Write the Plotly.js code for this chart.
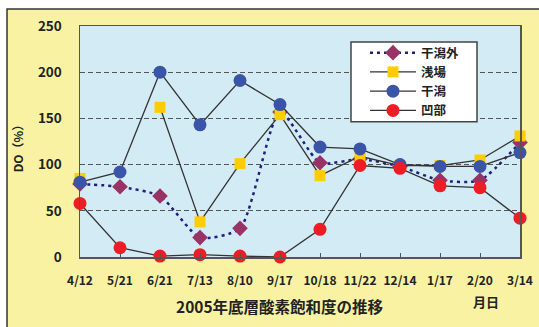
<!DOCTYPE html>
<html>
<head>
<meta charset="utf-8">
<script src="https://cdn.plot.ly/plotly-3.0.1.min.js"></script>
<style>html,body{margin:0;padding:0;background:#fff;}#chart{width:539px;height:327px;}</style>
</head>
<body>
<div id="chart"></div>
<script>
// ---- data ----
const months = ['4/12','5/21','6/21','7/13','8/10','9/17','10/18','11/22','12/14','1/17','2/20','3/14'];
const higataSoto = [79, 76, 66, 21, 31, 157, 102, 106, 98, 83, 83, 124];   // 干潟外
const asaba      = [85, null, 162, 38, 101, 154, 88, 109, 99, 99, 105, 131]; // 浅場
const higata     = [81, 92, 200, 143, 191, 165, 119, 117, 100, 98, 98, 113]; // 干潟
const boubu      = [58, 10, 1, 2.5, 1, 0, 30, 99, 96, 77, 75, 42];          // 凹部
const seriesNames = ['干潟外', '浅場', '干潟', '凹部'];
const yTicks = [0, 50, 100, 150, 200, 250];

const FONT = '"Noto Sans CJK JP", "Noto Sans", sans-serif';
const TXT = '#222';

const traces = [
  {x: months, y: higataSoto, name: seriesNames[0], type: 'scatter', mode: 'lines+markers',
   line: {color: '#1F1F80', width: 2.5, dash: '3px,4px', shape: 'spline', smoothing: 0.6},
   marker: {symbol: 'diamond', size: 12, color: '#993366'}, cliponaxis: false},
  {x: months, y: asaba, name: seriesNames[1], type: 'scatter', mode: 'lines+markers',
   line: {color: '#333333', width: 1.3},
   marker: {symbol: 'square', size: 11, color: '#FFCC00'}, cliponaxis: false},
  {x: months, y: higata, name: seriesNames[2], type: 'scatter', mode: 'lines+markers',
   line: {color: '#333333', width: 1.3},
   marker: {symbol: 'circle', size: 13, color: '#3A55A8'}, cliponaxis: false},
  {x: months, y: boubu, name: seriesNames[3], type: 'scatter', mode: 'lines+markers',
   line: {color: '#333333', width: 1.3},
   marker: {symbol: 'circle', size: 13, color: '#EE1C25'}, cliponaxis: false}
];

const layout = {
  width: 539, height: 327,
  margin: {l: 80, r: 19, t: 26, b: 70, pad: 0},
  paper_bgcolor: '#FFFFFF',
  plot_bgcolor: '#D3EBF4',
  font: {family: FONT, color: TXT, weight: 'bold'},
  showlegend: true,
  legend: {
    x: 0.6477, y: 0.948, xanchor: 'left', yanchor: 'top',
    bgcolor: 'rgba(0,0,0,0)', borderwidth: 0,
    font: {family: FONT, size: 12.5, color: TXT, weight: 'bold'},
    itemwidth: 46, tracegroupgap: 0
  },
  xaxis: {
    type: 'category', range: [0, 11],
    showgrid: false, zeroline: false,
    showline: true, linecolor: '#555', linewidth: 1.5, mirror: true,
    ticks: 'inside', ticklen: 4, tickcolor: '#555', tickwidth: 1,
    tickfont: {family: FONT, size: 12, color: TXT, weight: 'bold'},
    ticklabelstandoff: 12, fixedrange: true
  },
  yaxis: {
    range: [0, 250], tickvals: yTicks,
    showgrid: true, gridcolor: '#555', gridwidth: 1.2, griddash: '5px,3px',
    zeroline: false,
    showline: true, linecolor: '#555', linewidth: 1.5, mirror: true,
    ticks: '',
    tickfont: {family: FONT, size: 13.5, color: TXT, weight: 'bold'},
    ticklabelstandoff: 14, fixedrange: true
  },
  shapes: [
    {type: 'rect', xref: 'paper', yref: 'paper', x0: -0.1659, x1: 1.1, y0: -0.4, y1: 1.0736,
     fillcolor: '#F8F2A2', line: {color: '#333', width: 1.5}, layer: 'below'},
    {type: 'rect', xref: 'paper', yref: 'paper', x0: 0, x1: 1, y0: 0, y1: 1,
     fillcolor: '#D3EBF4', line: {width: 0}, layer: 'below'},
    // legend frame
    {type: 'rect', xref: 'paper', yref: 'paper', x0: 0.6159, x1: 0.9023, y0: 0.585, y1: 0.9307,
     fillcolor: '#FFFFFF', line: {color: '#444', width: 1.5}, layer: 'above'}
  ],
  annotations: [
    {text: '2005年底層酸素飽和度の推移', xref: 'paper', yref: 'paper', x: 0.4545, y: -0.21,
     xanchor: 'center', yanchor: 'middle', showarrow: false,
     font: {family: FONT, size: 15.5, color: TXT, weight: 'bold'}},
    {text: '月日', xref: 'paper', yref: 'paper', x: 0.9227, y: -0.193,
     xanchor: 'center', yanchor: 'middle', showarrow: false,
     font: {family: FONT, size: 13, color: TXT, weight: 'bold'}},
    {text: 'DO（%）', xref: 'paper', yref: 'paper', x: -0.143, y: 0.48, textangle: -90,
     xanchor: 'center', yanchor: 'middle', showarrow: false,
     font: {family: FONT, size: 12, color: TXT, weight: 'bold'}}
  ]
};

Plotly.newPlot('chart', traces, layout, {displayModeBar: false, staticPlot: true});
</script>
</body>
</html>
